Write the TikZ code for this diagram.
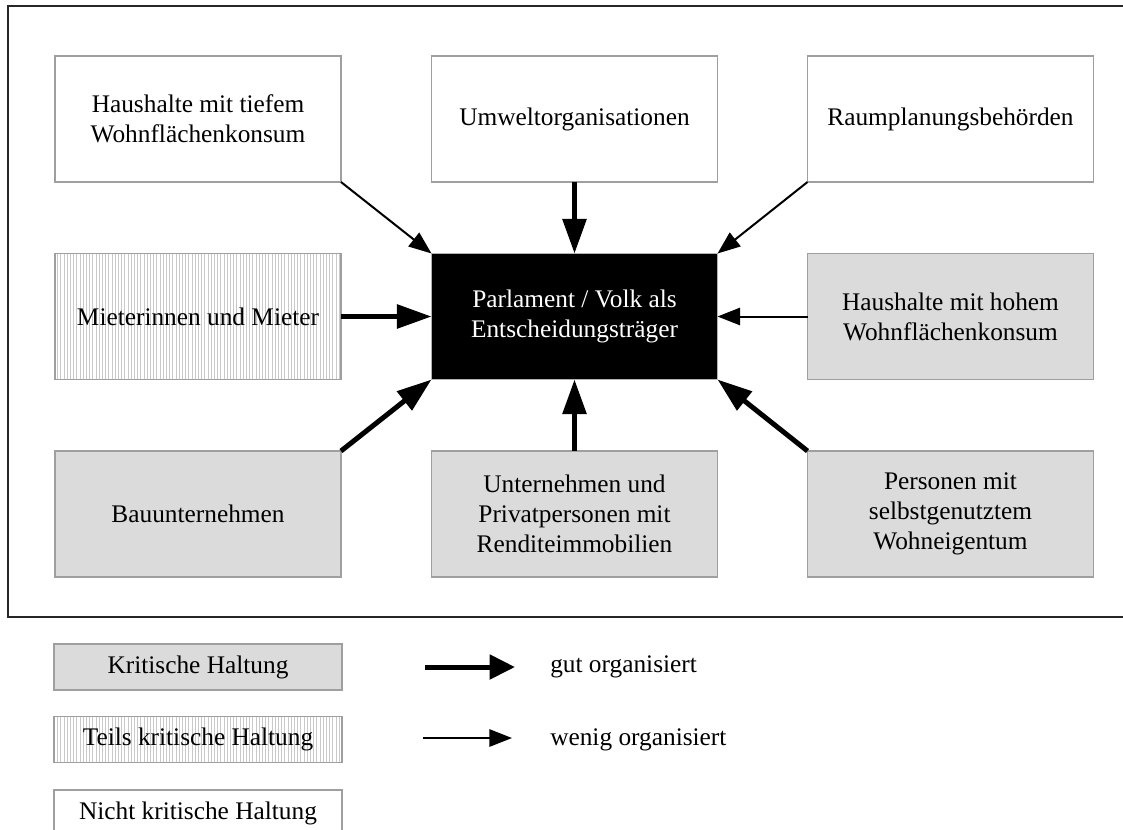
\documentclass[tikz,border=0pt]{standalone}
\usepackage{fontspec}
\setmainfont{Liberation Serif}
\usetikzlibrary{arrows.meta,patterns.meta}
\begin{document}
\begin{tikzpicture}[x=0.75pt,y=-0.75pt,
  box/.style={draw=gray!75, line width=1.1pt, minimum width=214.5pt, minimum height=94.5pt,
    inner sep=0pt, outer sep=0pt, align=center, font=\fontsize{19}{22.5}\selectfont},
  crit/.style={box, fill=gray!28},
  part/.style={box, pattern={Lines[angle=90,distance=2.4pt,line width=0.6pt]}, pattern color=gray!42},
  nocrit/.style={box, fill=white},
  center/.style={box, draw=gray!60, fill=black, text=white},
  legbox/.style={box, minimum width=216pt, minimum height=34.5pt},
  strong/.style={line width=3.75pt, -{Triangle[length=26pt,width=17.5pt]}},
  weak/.style={line width=1.5pt, -{Triangle[length=17pt,width=13pt]}},
  legstrong/.style={line width=3.75pt, -{Triangle[length=19pt,width=18pt]}},
  legtext/.style={anchor=west, inner sep=0pt, font=\fontsize{19}{22.5}\selectfont},
]
\useasboundingbox (0,0) rectangle (1123,829);
% frame
\draw[line width=1.6pt, draw=black!85] (1140,6) -- (8,6) -- (8,617) -- (1140,617);

% nodes
\node[nocrit] (tl) at (198,119) {Haushalte mit tiefem\\Wohnflächenkonsum};
\node[nocrit] (tc) at (574.5,119) {Umweltorganisationen};
\node[nocrit] (tr) at (950.5,119) {Raumplanungsbehörden};
\node[part] (ml) at (198,316.5) {Mieterinnen und Mieter};
\node[center] (c) at (574.5,316.5) {Parlament / Volk als\\Entscheidungsträger};
\node[crit] (mr) at (950.5,316.5) {Haushalte mit hohem\\Wohnflächenkonsum};
\node[crit] (bl) at (198,514) {Bauunternehmen};
\node[crit] (bc) at (574.5,514) {Unternehmen und\\Privatpersonen mit\\Renditeimmobilien};
\node[crit] (br) at (950.5,514) {Personen mit\\selbstgenutztem\\Wohneigentum};

% connectors
\draw[weak] (tl.south east) -- (c.north west);
\draw[strong] (tc.south) -- (c.north);
\draw[weak] (tr.south west) -- (c.north east);
\draw[strong] (ml.east) -- (c.west);
\draw[weak] (mr.west) -- (c.east);
\draw[strong] (bl.north east) -- (c.south west);
\draw[strong] (bc.north) -- (c.south);
\draw[strong] (br.north west) -- (c.south east);

% legend
\node[legbox, fill=gray!28] (k) at (198,667) {Kritische Haltung};
\node[legbox, pattern={Lines[angle=90,distance=2.4pt,line width=0.6pt]}, pattern color=gray!42] (t) at (198,739.5) {Teils kritische Haltung};
\node[legbox, fill=white] (n) at (198,813) {Nicht kritische Haltung};

\coordinate (a1s) at (425,667);
\coordinate (a1e) at (515,667);
\coordinate (a2s) at (423,738);
\coordinate (a2e) at (512,738);
\draw[legstrong] (a1s) -- (a1e);
\draw[weak] (a2s) -- (a2e);
\node[legtext] (g) at (550,667) {gut organisiert};
\node[legtext] (w) at (550,740) {wenig organisiert};
\end{tikzpicture}
\end{document}
